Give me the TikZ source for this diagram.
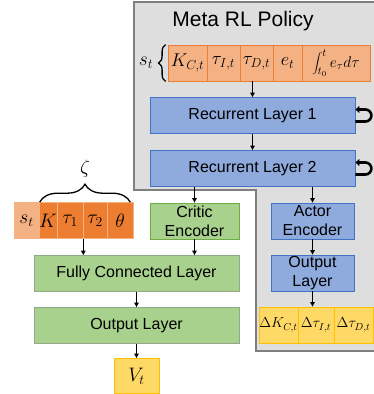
\RequirePackage{fix-cm}
\documentclass[tikz,border=0pt]{standalone}
\usepackage[no-math]{fontspec}
\setmainfont{Liberation Sans}
\usepackage{tikz}
\usetikzlibrary{arrows.meta}
\usetikzlibrary{decorations.pathreplacing}
\definecolor{stateorange}{HTML}{F4B183}
\definecolor{darkorange}{HTML}{ED7D31}
\definecolor{layerblue}{HTML}{8FAADC}
\definecolor{borderblue}{HTML}{4472C4}
\definecolor{layergreen}{HTML}{A9D18E}
\definecolor{bordergreen}{HTML}{70AD47}
\definecolor{greengray}{HTML}{93A889}
\definecolor{outyellow}{HTML}{FFD966}
\definecolor{borderyellow}{HTML}{FFC000}
\definecolor{boxfill}{HTML}{DEDEDE}
\definecolor{boxgray}{HTML}{7F7F7F}
\tikzset{%
  statecell/.style={inner sep=0,rectangle,fill=stateorange,draw=darkorange,line width=0.8pt,
    minimum height=\cellheight pt,font=\fontsize{18.5}{22}\selectfont},
  leftcell/.style={inner sep=0,rectangle,fill=darkorange,draw=stateorange,line width=0.6pt,
    minimum height=\cellheight pt,font=\fontsize{19.5}{23}\selectfont},
  yellowcell/.style={inner sep=0,rectangle,fill=outyellow,draw=borderyellow,line width=0.8pt,
    minimum height=\cellheight pt,font=\fontsize{14.5}{17}\selectfont},
  blueblock/.style={inner sep=0,rectangle,fill=layerblue,draw=borderblue,line width=0.8pt,
    minimum height=\cellheight pt,align=center,font=\fontsize{16}{19}\selectfont},
  greenblock/.style={inner sep=0,rectangle,fill=layergreen,draw=bordergreen,line width=0.8pt,
    minimum height=\cellheight pt,align=center,font=\fontsize{16}{19}\selectfont},
  flow/.style={-{Triangle[length=4.5pt,width=4.5pt]},line width=1.3pt},
  loopflow/.style={-{Triangle[length=4pt,width=7pt]},line width=2.6pt},
  bracestyle/.style={decorate,line width=1.3pt}
}
\newcommand{\cellheight}{36}

\begin{document}
\begin{tikzpicture}[x=1pt,y=-1pt]
\useasboundingbox (0,0) rectangle (374,394);

% policy box
\draw[line width=1.5pt,draw=boxgray,fill=boxfill] (134,2) -- (378,2) -- (378,351) -- (256,351) -- (256,190) -- (134,190) -- cycle;
\node (title) at (243,21) [font=\fontsize{21}{25}\selectfont] {Meta RL Policy};

% state
\node (kc) at (187.5,63) [statecell,minimum width=39pt] {$K_{C,t}$};
\node (taui) at (223.5,63) [statecell,minimum width=33pt] {$\tau_{I,t}$};
\node (taud) at (256.5,63) [statecell,minimum width=33pt] {$\tau_{D,t}$};
\node (et) at (287.5,63) [statecell,minimum width=29pt] {$e_t$};
\node (integ) at (336,63) [statecell,minimum width=68pt,font=\fontsize{15.5}{18}\selectfont] {$\displaystyle\int_{t_0}^{t} e_\tau d\tau$};
\node (st_label) at (146,63) [font=\fontsize{19.5}{23}\selectfont] {$s_t$};
\draw[bracestyle,decoration={brace,amplitude=7pt}] ([xshift=-2pt]kc.south west) -- ([xshift=-2pt]kc.north west);

\node (rec_one) at (252.5,115.5) [blueblock,minimum width=205pt] {Recurrent Layer 1};
\node (rec_two) at (252.5,168.5) [blueblock,minimum width=205pt] {Recurrent Layer 2};
\node (actor_enc) at (312.5,221) [blueblock,minimum width=83pt] {Actor\\Encoder};
\node (actor_out) at (312.5,273) [blueblock,minimum width=83pt] {Output\\Layer};

% actions
\node (d_kc) at (278.5,325) [yellowcell,minimum width=39pt] {$\Delta K_{C,t}$};
\node (d_taui) at (316,325) [yellowcell,minimum width=36pt] {$\Delta\tau_{I,t}$};
\node (d_taud) at (353.5,325) [yellowcell,minimum width=39pt] {$\Delta\tau_{D,t}$};

% critic
\node (critic_enc) at (194.5,221) [greenblock,minimum width=89pt] {Critic\\Encoder};
\node (fc_layer) at (136.5,273.5) [greenblock,draw=greengray,minimum width=205pt] {Fully Connected Layer};
\node (critic_out) at (136.5,325.5) [greenblock,draw=greengray,minimum width=205pt] {Output Layer};
\node (value) at (136.5,376) [yellowcell,minimum width=45pt,minimum height=35pt,font=\fontsize{19.5}{23}\selectfont] {$V_t$};

\node (s_cell) at (26.5,220.5) [leftcell,fill=stateorange,minimum width=25pt] {$s_t$};
\node (k_cell) at (48,220.5) [leftcell,minimum width=18pt] {$K$};
\node (tau_one) at (70,220.5) [leftcell,minimum width=26pt] {$\tau_1$};
\node (tau_two) at (95,220.5) [leftcell,minimum width=24pt] {$\tau_2$};
\node (theta_cell) at (120,220.5) [leftcell,minimum width=26pt] {$\theta$};
\draw[bracestyle,decoration={brace,amplitude=18pt}] ([xshift=1pt]k_cell.north west) -- ([xshift=-3pt]theta_cell.north east);
\node (zeta) at (85,169) [font=\fontsize{19.5}{23}\selectfont] {$\zeta$};

\draw[flow] (rec_one.north |- taud.south) -- (rec_one.north);
\draw[flow] (rec_one.south) -- (rec_two.north);
\draw[flow] (critic_enc.north |- rec_two.south) -- (critic_enc.north);
\draw[flow] (actor_enc.north |- rec_two.south) -- (actor_enc.north);
\draw[flow] (actor_enc.south) -- (actor_out.north);
\draw[flow] (actor_out.south) -- (actor_out.south |- d_taui.north);
\draw[flow] (tau_one.south east) -- (tau_one.south east |- fc_layer.north);
\draw[flow] (critic_enc.south) -- (critic_enc.south |- fc_layer.north);
\draw[flow] (fc_layer.south) -- (critic_out.north);
\draw[flow] (critic_out.south) -- (value.north);

\draw[loopflow] ([yshift=-6pt]rec_one.east) -- ++(10,0) arc[start angle=-90,end angle=90,radius=6pt] -- ([yshift=6pt]rec_one.east);
\draw[loopflow] ([yshift=-6pt]rec_two.east) -- ++(10,0) arc[start angle=-90,end angle=90,radius=6pt] -- ([yshift=6pt]rec_two.east);

\end{tikzpicture}
\end{document}
